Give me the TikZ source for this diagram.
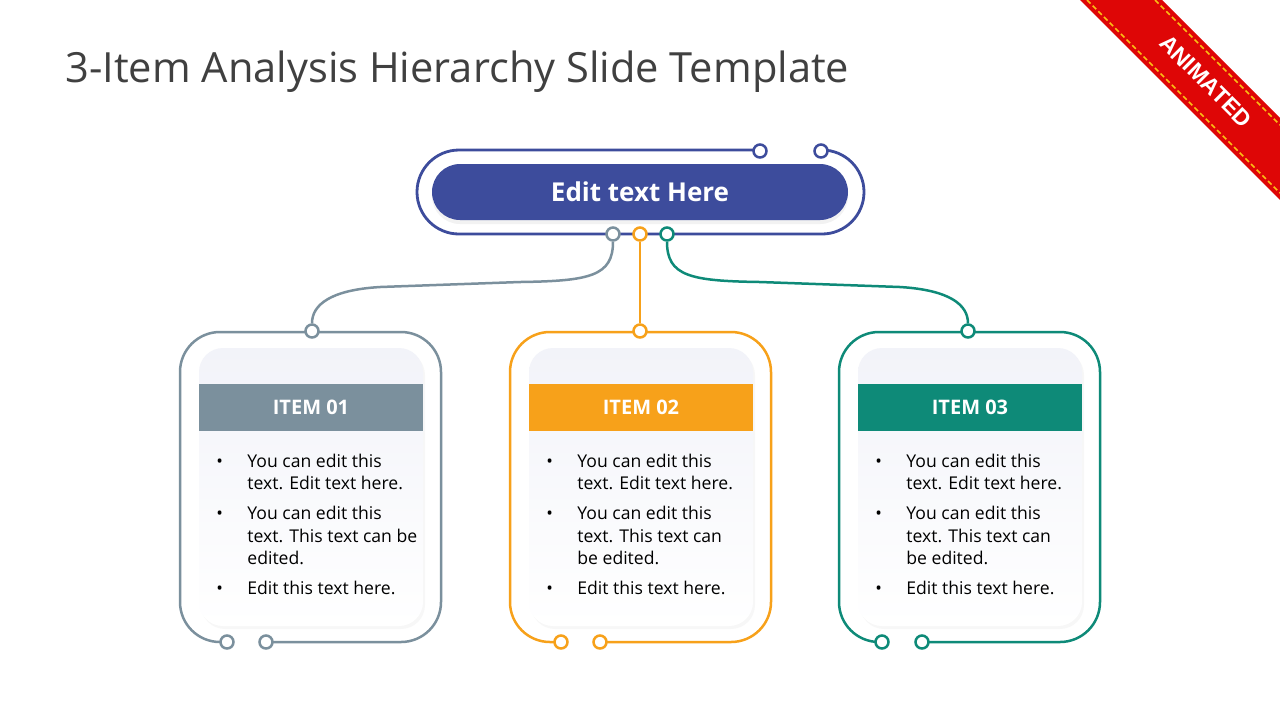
\documentclass[tikz,border=0pt]{standalone}
\usepackage{fontspec}
\setmainfont{Open Sans}
\newfontfamily\ribbonfont{Liberation Sans}
\usetikzlibrary{shadows}
\definecolor{titlegray}{RGB}{64,64,64}
\definecolor{topblue}{RGB}{61,76,156}
\definecolor{itemgray}{RGB}{123,144,157}
\definecolor{itemorange}{RGB}{247,161,26}
\definecolor{itemteal}{RGB}{14,138,120}
\definecolor{cardtop}{RGB}{242,243,249}
\definecolor{ribbonred}{RGB}{222,6,6}
\definecolor{stitch}{RGB}{250,190,20}

\tikzset{
  dot/.style={circle, draw, fill=white, line width=1.25pt, minimum size=6.5pt, inner sep=0pt},
  frame/.style={line width=1.25pt, rounded corners=20pt},
  card/.style={rounded corners=12pt, minimum width=112pt, minimum height=139pt,
    top color=cardtop, bottom color=white, inner sep=0pt,
    drop shadow={opacity=0.06, shadow xshift=1pt, shadow yshift=-1.5pt}},
  band/.style={minimum width=112pt, minimum height=23.5pt, inner sep=0pt,
    text=white, font=\bfseries\fontsize{10}{12}\selectfont},
  headbox/.style={fill=topblue, rounded corners=14pt, minimum width=208pt,
    minimum height=28pt, text=white, font=\bfseries\fontsize{13}{15}\selectfont,
    drop shadow={opacity=0.1, shadow xshift=0pt, shadow yshift=-2pt}},
  bodytext/.style={anchor=base west, inner sep=0pt, font=\fontsize{8.8}{11.25}\selectfont}
}

\begin{document}
\begin{tikzpicture}[x=0.5pt, y=-0.5pt]
  \useasboundingbox (0,0) rectangle (1280,720);
  \fill[white] (0,0) rectangle (1280,720);

  % title
  \node[anchor=base west, inner sep=0pt, text=titlegray,
    font=\fontsize{20.8}{25}\selectfont] (title) at (65,82)
    {3-Item Analysis Hierarchy Slide Template};

  % ribbon
  \fill[ribbonred] (1080,0) -- (1162,0) -- (1280,118) -- (1280,200) -- cycle;
  \draw[stitch, line width=0.8pt, dash pattern=on 2.5pt off 1.5pt] (1087,0) -- (1280,193);
  \draw[stitch, line width=0.8pt, dash pattern=on 2.5pt off 1.5pt] (1155,0) -- (1280,125);
  \node[rotate=-45, text=white, font=\ribbonfont\bfseries\fontsize{11.5}{13}\selectfont]
    (ribbon) at (1206,81) {ANIMATED};

  % top box
  \draw[topblue, line width=1.4pt, rounded corners=21pt]
    (760,150) -- (417,150) -- (417,234) -- (864,234) -- (864,150) -- (821,150);
  \node[headbox] (head) at (640,192) {Edit text Here};
  \node[dot, draw=topblue] (hl) at (760,151) {};
  \node[dot, draw=topblue] (hr) at (821,151) {};
  \node[dot, draw=itemgray] (h1) at (613,234) {};
  \node[dot, draw=itemorange] (h2) at (640,234) {};
  \node[dot, draw=itemteal] (h3) at (667,234) {};

  % items
  \foreach \i/\dx/\col/\tx/\ba/\bb/\wrap in {
      1/0/itemgray/312/227/266/{can be\\ & edited.},
      2/330/itemorange/640/561/600/{can\\ & be edited.},
      3/659/itemteal/968/882/922/{can\\ & be edited.}}{
    \draw[\col, frame] (\bb,642) -- (\dx+441,642) -- (\dx+441,332)
      -- (\dx+180,332) -- (\dx+180,642) -- (\ba,642);
    \node[card] (card\i) at (\dx+311,487) {};
    \node[band, fill=\col] (band\i) at (\dx+311,407) {ITEM 0\i};
    \node[bodytext] (body\i) at (\dx+216,467) {%
      \begin{tabular}[t]{@{}p{15.5pt}@{}l@{}}
        \textbullet & You can edit this\\
                    & text. Edit text here.\\[3.75pt]
        \textbullet & You can edit this\\
                    & text. This text \wrap\\[3.75pt]
        \textbullet & Edit this text here.
      \end{tabular}};
    \node[dot, draw=\col] (top\i) at (\tx,331) {};
    \node[dot, draw=\col] (bl\i) at (\ba,642) {};
    \node[dot, draw=\col] (br\i) at (\bb,642) {};
  }

  % connectors
  \draw[itemgray, line width=1.25pt] (h1.south) .. controls (613,276) and (590,281) .. (520,282)
    -- (380,287) .. controls (330,290) and (312,305) .. (top1.north);
  \draw[itemorange, line width=1.25pt] (h2.south) -- (top2.north);
  \draw[itemteal, line width=1.25pt] (h3.south) .. controls (667,276) and (690,281) .. (760,282)
    -- (900,287) .. controls (950,290) and (968,305) .. (top3.north);
\end{tikzpicture}
\end{document}
